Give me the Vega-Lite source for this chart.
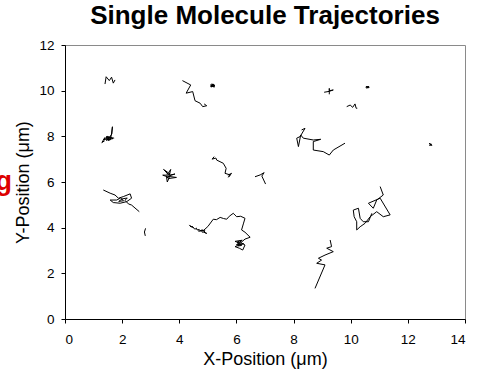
{
  "$schema": "https://vega.github.io/schema/vega-lite/v6.json",
  "width": 400,
  "height": 274,
  "autosize": "none",
  "padding": {"left": 65, "top": 45, "right": 13, "bottom": 53},
  "background": "white",
  "config": {
    "font": "Liberation Sans",
    "view": {"stroke": "#8a8a8a", "strokeWidth": 1},
    "axis": {"grid": false, "domainColor": "black", "tickColor": "black", "tickSize": 4, "labelFont": "Liberation Sans", "labelFontSize": 13.5, "labelColor": "black", "titleFont": "Liberation Sans", "titleFontSize": 18, "titleFontWeight": "normal", "titleColor": "black"}
  },
  "title": {"text": "Single Molecule Trajectories", "fontSize": 26, "fontWeight": "bold", "font": "Liberation Sans", "color": "black", "anchor": "middle", "offset": 9},
  "datasets": {
    "traj": [
      {"t":"A","o":0,"x":1.40,"y":10.29},{"t":"A","o":1,"x":1.44,"y":10.61},{"t":"A","o":2,"x":1.55,"y":10.44},{"t":"A","o":3,"x":1.63,"y":10.59},{"t":"A","o":4,"x":1.69,"y":10.33},{"t":"A","o":5,"x":1.75,"y":10.47},
      {"t":"B","o":0,"x":4.11,"y":10.44},{"t":"B","o":1,"x":4.40,"y":10.25},{"t":"B","o":2,"x":4.24,"y":9.89},{"t":"B","o":3,"x":4.47,"y":9.96},{"t":"B","o":4,"x":4.55,"y":9.56},{"t":"B","o":5,"x":4.73,"y":9.45},{"t":"B","o":6,"x":4.82,"y":9.30},{"t":"B","o":7,"x":4.96,"y":9.34},{"t":"B","o":8,"x":4.87,"y":9.42},
      {"t":"C","o":0,"x":5.08,"y":10.20},{"t":"C","o":1,"x":5.20,"y":10.28},{"t":"C","o":2,"x":5.12,"y":10.16},{"t":"C","o":3,"x":5.24,"y":10.22},{"t":"C","o":4,"x":5.10,"y":10.26},{"t":"C","o":5,"x":5.22,"y":10.15},{"t":"C","o":6,"x":5.14,"y":10.30},{"t":"C","o":7,"x":5.25,"y":10.20},{"t":"C","o":8,"x":5.10,"y":10.18},{"t":"C","o":9,"x":5.18,"y":10.24},{"t":"C","o":10,"x":5.12,"y":10.22},{"t":"C","o":11,"x":5.22,"y":10.26},{"t":"C","o":12,"x":5.16,"y":10.18},
      {"t":"D","o":0,"x":1.28,"y":7.72},{"t":"D","o":1,"x":1.38,"y":7.80},{"t":"D","o":2,"x":1.30,"y":7.75},{"t":"D","o":3,"x":1.40,"y":7.95},{"t":"D","o":4,"x":1.35,"y":7.85},{"t":"D","o":5,"x":1.55,"y":7.92},{"t":"D","o":6,"x":1.45,"y":7.82},{"t":"D","o":7,"x":1.60,"y":7.98},{"t":"D","o":8,"x":1.50,"y":7.86},{"t":"D","o":9,"x":1.68,"y":7.90},{"t":"D","o":10,"x":1.48,"y":8.00},{"t":"D","o":11,"x":1.42,"y":7.88},{"t":"D","o":12,"x":1.58,"y":7.84},{"t":"D","o":13,"x":1.62,"y":8.05},{"t":"D","o":14,"x":1.66,"y":8.42},{"t":"D","o":15,"x":1.64,"y":8.10},{"t":"D","o":16,"x":1.55,"y":7.95},{"t":"D","o":17,"x":1.46,"y":7.92},{"t":"D","o":18,"x":1.52,"y":7.80},{"t":"D","o":19,"x":1.60,"y":7.90},{"t":"D","o":20,"x":1.44,"y":7.98},{"t":"D","o":21,"x":1.72,"y":7.92},
      {"t":"E","o":0,"x":3.50,"y":6.50},{"t":"E","o":1,"x":3.60,"y":6.35},{"t":"E","o":2,"x":3.45,"y":6.55},{"t":"E","o":3,"x":3.62,"y":6.40},{"t":"E","o":4,"x":3.70,"y":6.55},{"t":"E","o":5,"x":3.65,"y":6.30},{"t":"E","o":6,"x":3.85,"y":6.35},{"t":"E","o":7,"x":3.60,"y":6.25},{"t":"E","o":8,"x":3.90,"y":6.20},{"t":"E","o":9,"x":3.62,"y":6.15},{"t":"E","o":10,"x":3.55,"y":6.25},{"t":"E","o":11,"x":3.58,"y":6.00},{"t":"E","o":12,"x":3.65,"y":6.20},{"t":"E","o":13,"x":3.42,"y":6.30},{"t":"E","o":14,"x":3.60,"y":6.30},{"t":"E","o":15,"x":3.68,"y":6.38},{"t":"E","o":16,"x":3.56,"y":6.34},
      {"t":"F","o":0,"x":5.22,"y":7.11},{"t":"F","o":1,"x":5.15,"y":7.00},{"t":"F","o":2,"x":5.28,"y":7.05},{"t":"F","o":3,"x":5.31,"y":6.96},{"t":"F","o":4,"x":5.54,"y":6.82},{"t":"F","o":5,"x":5.64,"y":6.60},{"t":"F","o":6,"x":5.60,"y":6.38},{"t":"F","o":7,"x":5.78,"y":6.31},{"t":"F","o":8,"x":5.72,"y":6.21},{"t":"F","o":9,"x":5.83,"y":6.38},{"t":"F","o":10,"x":5.70,"y":6.30},
      {"t":"G","o":0,"x":6.65,"y":6.23},{"t":"G","o":1,"x":6.83,"y":6.31},{"t":"G","o":2,"x":6.97,"y":6.41},{"t":"G","o":3,"x":6.89,"y":6.26},{"t":"G","o":4,"x":7.02,"y":5.91},
      {"t":"H","o":0,"x":9.07,"y":9.93},{"t":"H","o":1,"x":9.25,"y":9.97},{"t":"H","o":2,"x":9.39,"y":10.03},{"t":"H","o":3,"x":9.25,"y":10.00},{"t":"H","o":4,"x":9.25,"y":10.10},{"t":"H","o":5,"x":9.25,"y":9.84},
      {"t":"I","o":0,"x":10.52,"y":10.15},{"t":"I","o":1,"x":10.64,"y":10.18},{"t":"I","o":2,"x":10.55,"y":10.12},{"t":"I","o":3,"x":10.62,"y":10.13},{"t":"I","o":4,"x":10.54,"y":10.18},{"t":"I","o":5,"x":10.65,"y":10.15},{"t":"I","o":6,"x":10.58,"y":10.16},
      {"t":"J","o":0,"x":9.86,"y":9.30},{"t":"J","o":1,"x":9.98,"y":9.37},{"t":"J","o":2,"x":10.07,"y":9.27},{"t":"J","o":3,"x":10.15,"y":9.42},{"t":"J","o":4,"x":10.19,"y":9.23},{"t":"J","o":5,"x":10.23,"y":9.23},
      {"t":"K","o":0,"x":8.28,"y":8.28},{"t":"K","o":1,"x":8.40,"y":8.35},{"t":"K","o":2,"x":8.23,"y":7.99},{"t":"K","o":3,"x":8.11,"y":7.92},{"t":"K","o":4,"x":8.17,"y":7.55},{"t":"K","o":5,"x":8.25,"y":8.06},{"t":"K","o":6,"x":8.34,"y":7.92},{"t":"K","o":7,"x":8.69,"y":7.84},{"t":"K","o":8,"x":8.95,"y":7.87},{"t":"K","o":9,"x":8.69,"y":7.77},{"t":"K","o":10,"x":8.69,"y":7.40},{"t":"K","o":11,"x":9.04,"y":7.33},{"t":"K","o":12,"x":9.25,"y":7.18},{"t":"K","o":13,"x":9.39,"y":7.40},{"t":"K","o":14,"x":9.80,"y":7.70},
      {"t":"L","o":0,"x":12.74,"y":7.70},{"t":"L","o":1,"x":12.82,"y":7.62},{"t":"L","o":2,"x":12.76,"y":7.60},{"t":"L","o":3,"x":12.80,"y":7.68},{"t":"L","o":4,"x":12.84,"y":7.60},{"t":"L","o":5,"x":12.77,"y":7.66},
      {"t":"M","o":0,"x":1.34,"y":5.65},{"t":"M","o":1,"x":1.58,"y":5.51},{"t":"M","o":2,"x":1.75,"y":5.43},{"t":"M","o":3,"x":1.87,"y":5.29},{"t":"M","o":4,"x":2.04,"y":5.36},{"t":"M","o":5,"x":2.28,"y":5.48},{"t":"M","o":6,"x":2.33,"y":5.29},{"t":"M","o":7,"x":2.16,"y":5.14},{"t":"M","o":8,"x":1.93,"y":5.07},{"t":"M","o":9,"x":1.69,"y":5.10},{"t":"M","o":10,"x":1.58,"y":5.21},{"t":"M","o":11,"x":1.81,"y":5.21},{"t":"M","o":12,"x":1.95,"y":5.30},{"t":"M","o":13,"x":2.05,"y":5.18},{"t":"M","o":14,"x":1.88,"y":5.15},{"t":"M","o":15,"x":2.00,"y":5.26},{"t":"M","o":16,"x":2.18,"y":5.30},{"t":"M","o":17,"x":2.10,"y":5.20},{"t":"M","o":18,"x":2.22,"y":5.04},{"t":"M","o":19,"x":2.33,"y":4.99},{"t":"M","o":20,"x":2.60,"y":4.70},
      {"t":"N","o":0,"x":2.82,"y":3.97},{"t":"N","o":1,"x":2.78,"y":3.81},{"t":"N","o":2,"x":2.81,"y":3.64},
      {"t":"O","o":0,"x":4.35,"y":4.12},{"t":"O","o":1,"x":4.42,"y":4.02},{"t":"O","o":2,"x":4.38,"y":4.08},{"t":"O","o":3,"x":4.50,"y":4.00},{"t":"O","o":4,"x":4.45,"y":4.05},{"t":"O","o":5,"x":4.55,"y":3.93},{"t":"O","o":6,"x":4.60,"y":3.98},{"t":"O","o":7,"x":4.62,"y":3.90},{"t":"O","o":8,"x":4.70,"y":3.92},{"t":"O","o":9,"x":4.68,"y":3.84},{"t":"O","o":10,"x":4.78,"y":3.88},{"t":"O","o":11,"x":4.80,"y":3.80},{"t":"O","o":12,"x":4.88,"y":3.82},{"t":"O","o":13,"x":4.92,"y":3.76},{"t":"O","o":14,"x":4.96,"y":3.75},{"t":"O","o":15,"x":4.86,"y":3.80},{"t":"O","o":16,"x":4.90,"y":3.86},{"t":"O","o":17,"x":4.80,"y":3.90},{"t":"O","o":18,"x":4.72,"y":3.86},{"t":"O","o":19,"x":4.85,"y":3.88},{"t":"O","o":20,"x":5.00,"y":4.05},{"t":"O","o":21,"x":5.19,"y":4.37},{"t":"O","o":22,"x":5.30,"y":4.35},{"t":"O","o":23,"x":5.43,"y":4.45},{"t":"O","o":24,"x":5.55,"y":4.40},{"t":"O","o":25,"x":5.66,"y":4.37},{"t":"O","o":26,"x":5.75,"y":4.50},{"t":"O","o":27,"x":5.89,"y":4.63},{"t":"O","o":28,"x":5.95,"y":4.55},{"t":"O","o":29,"x":6.01,"y":4.48},{"t":"O","o":30,"x":6.15,"y":4.50},{"t":"O","o":31,"x":6.30,"y":4.41},{"t":"O","o":32,"x":6.25,"y":4.20},{"t":"O","o":33,"x":6.18,"y":3.90},{"t":"O","o":34,"x":6.30,"y":3.80},{"t":"O","o":35,"x":6.48,"y":3.58},{"t":"O","o":36,"x":6.30,"y":3.50},{"t":"O","o":37,"x":6.13,"y":3.32},{"t":"O","o":38,"x":5.95,"y":3.40},{"t":"O","o":39,"x":6.20,"y":3.45},{"t":"O","o":40,"x":6.00,"y":3.25},{"t":"O","o":41,"x":6.25,"y":3.30},{"t":"O","o":42,"x":5.95,"y":3.17},{"t":"O","o":43,"x":6.10,"y":3.10},{"t":"O","o":44,"x":6.22,"y":3.02},{"t":"O","o":45,"x":6.30,"y":3.24},{"t":"O","o":46,"x":6.15,"y":3.35},{"t":"O","o":47,"x":6.05,"y":3.20},{"t":"O","o":48,"x":6.18,"y":3.22},{"t":"O","o":49,"x":6.02,"y":3.36},{"t":"O","o":50,"x":6.12,"y":3.42},
      {"t":"P","o":0,"x":11.03,"y":5.80},{"t":"P","o":1,"x":11.14,"y":5.43},{"t":"P","o":2,"x":10.91,"y":5.21},{"t":"P","o":3,"x":10.79,"y":4.85},{"t":"P","o":4,"x":10.62,"y":5.07},{"t":"P","o":5,"x":11.03,"y":5.29},{"t":"P","o":6,"x":11.38,"y":4.56},{"t":"P","o":7,"x":11.14,"y":4.48},{"t":"P","o":8,"x":10.91,"y":4.70},{"t":"P","o":9,"x":10.68,"y":4.48},{"t":"P","o":10,"x":10.50,"y":4.19},{"t":"P","o":11,"x":10.33,"y":4.04},{"t":"P","o":12,"x":10.21,"y":3.90},{"t":"P","o":13,"x":10.21,"y":4.26},{"t":"P","o":14,"x":10.12,"y":4.48},{"t":"P","o":15,"x":10.09,"y":4.77},{"t":"P","o":16,"x":10.27,"y":4.85},{"t":"P","o":17,"x":10.33,"y":4.41},{"t":"P","o":18,"x":10.44,"y":4.26},{"t":"P","o":19,"x":10.62,"y":4.26},{"t":"P","o":20,"x":10.74,"y":4.63},
      {"t":"Q","o":0,"x":9.28,"y":3.46},{"t":"Q","o":1,"x":9.33,"y":3.17},{"t":"Q","o":2,"x":9.16,"y":3.10},{"t":"Q","o":3,"x":9.39,"y":2.95},{"t":"Q","o":4,"x":9.10,"y":2.80},{"t":"Q","o":5,"x":8.87,"y":2.66},{"t":"Q","o":6,"x":8.98,"y":2.58},{"t":"Q","o":7,"x":8.81,"y":2.44},{"t":"Q","o":8,"x":9.10,"y":2.37},{"t":"Q","o":9,"x":8.75,"y":1.34}
    ],
    "note": [{"label":"g","x":-1.855,"y":5.65}]
  },
  "layer": [
    {
      "data": {"name": "traj"},
      "mark": {"type": "line", "color": "black", "strokeWidth": 1},
      "encoding": {
        "x": {"field": "x", "type": "quantitative", "scale": {"domain": [0, 14], "nice": false, "zero": false}, "axis": {"values": [0,2,4,6,8,10,12,14], "title": "X-Position (μm)", "labelPadding": 9, "titlePadding": 5}},
        "y": {"field": "y", "type": "quantitative", "scale": {"domain": [0, 12], "nice": false, "zero": false}, "axis": {"values": [0,2,4,6,8,10,12], "title": "Y-Position (μm)", "labelPadding": 7, "titlePadding": 6}},
        "detail": {"field": "t", "type": "nominal"},
        "order": {"field": "o", "type": "quantitative"}
      }
    },
    {
      "data": {"name": "note"},
      "mark": {"type": "text", "color": "#dd0000", "fontSize": 27, "fontWeight": "bold", "font": "Liberation Sans", "align": "right", "baseline": "alphabetic"},
      "encoding": {
        "x": {"field": "x", "type": "quantitative"},
        "y": {"field": "y", "type": "quantitative"},
        "text": {"field": "label"}
      }
    }
  ]
}
